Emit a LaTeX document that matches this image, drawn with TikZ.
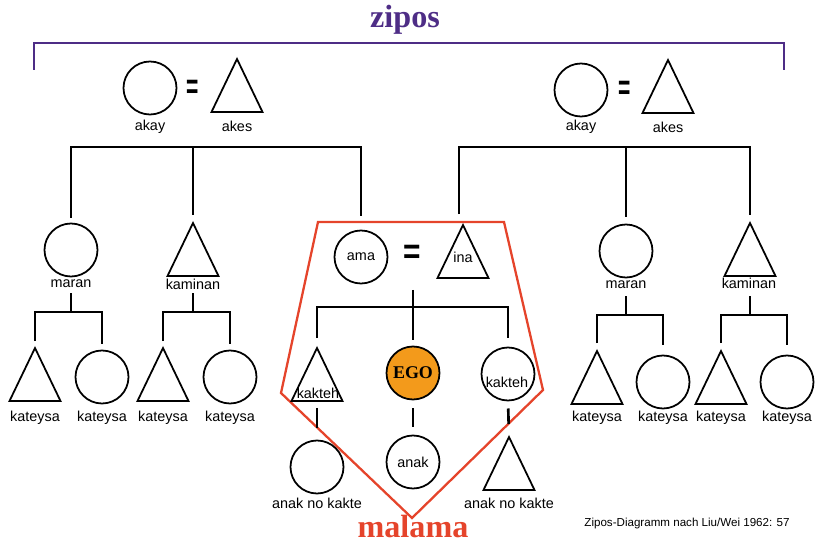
\documentclass[tikz,border=0pt]{standalone}
\usepackage{graphicx}
\usepackage{fontspec}
\setmainfont{Liberation Sans}
\newfontfamily\headfont{Liberation Serif}
\usetikzlibrary{shapes.geometric}

\definecolor{ziposviolet}{HTML}{4E2D86}
\definecolor{malamared}{HTML}{E5442B}
\definecolor{egoorange}{HTML}{F39A1B}

\tikzset{
  female/.style={circle, draw, line width=1pt, minimum size=1.06cm, inner sep=0pt, outer sep=0pt,
    font=\fontsize{8.2}{9}\selectfont},
  male/.style={isosceles triangle, isosceles triangle stretches, shape border rotate=90, draw,
    line width=1pt, minimum width=1.02cm, minimum height=1.06cm, inner sep=0pt, outer sep=0pt, anchor=south},
  term/.style={inner sep=0pt, font=\fontsize{8.2}{9}\selectfont},
  kin/.style={line width=1.5pt},
  wed/.style={inner sep=0pt, font=\bfseries\fontsize{20}{20}\selectfont},
  groupname/.style={inner sep=0pt, anchor=base, font=\headfont\bfseries\fontsize{18.3}{20}\selectfont},
}

\begin{document}
\begin{tikzpicture}[x=0.02cm, y=-0.02cm]
  \useasboundingbox (0,0) rectangle (816,544);

  % zipos bracket
  \draw[ziposviolet, line width=1.3pt] (34,70) -- (34,43) -- (784,43) -- (784,70);
  \node[groupname, text=ziposviolet] (zipos) at (405,28) {zipos};

  % malama
  \draw[malamared, line width=1.3pt] (318,222) -- (504,222) -- (543,390) -- (412,518) -- (281,393) -- cycle;
  \node[groupname, text=malamared] (malama) at (413,538) {malama};

  % grandparents
  \node[female] (akayL) at (150,88) {};
  \node[wed] (wedL) at (193,89) {\scalebox{0.6}[1]{=}};
  \node[male] (akesL) at (237,112) {};
  \node[term] (akayLt) at (150,127) {akay};
  \node[term] (akesLt) at (237,126) {akes};

  \node[female] (akayR) at (581,90) {};
  \node[wed] (wedR) at (625,90) {\scalebox{0.6}[1]{=}};
  \node[male] (akesR) at (668,113) {};
  \node[term] (akayRt) at (581,127) {akay};
  \node[term] (akesRt) at (668,127) {akes};

  % parents
  \node[female] (maranL) at (71,250) {};
  \node[term] (maranLt) at (71,284) {maran};
  \node[male] (kaminanL) at (193,276) {};
  \node[term] (kaminanLt) at (193,284) {kaminan};

  \node[female] (ama) at (361,257) {ama};
  \node[wed] (wedC) at (412,254) {\scalebox{0.85}[1]{=}};
  \node[male] (ina) at (463,278) {};
  \node[term] (inat) at (463,257) {ina};

  \node[female] (maranR) at (626,251) {};
  \node[term] (maranRt) at (626,285) {maran};
  \node[male] (kaminanR) at (750,276) {};
  \node[term] (kaminanRt) at (749,283) {kaminan};

  % ego generation
  \node[male] (katL1) at (35,401) {};
  \node[female] (katL2) at (102,377) {};
  \node[male] (katL3) at (163,401) {};
  \node[female] (katL4) at (230,377) {};
  \foreach \x/\n in {35/1,102/2,163/3,230/4}
    \node[term] (katL\n t) at (\x,418) {kateysa};

  \node[male] (kaktehT) at (317,401) {};
  \node[term] (kaktehTt) at (318,393) {kakteh};
  \node[female, fill=egoorange] (ego) at (413,373) {\headfont\bfseries\fontsize{10.2}{11}\selectfont EGO};
  \node[female] (kaktehC) at (508,374) {};
  \node[term] (kaktehCt) at (507,382) {kakteh};

  \node[male] (katR1) at (597,404) {};
  \node[female] (katR2) at (663,382) {};
  \node[male] (katR3) at (721,404) {};
  \node[female] (katR4) at (787,382) {};
  \foreach \x/\n in {597/1,663/2,721/3,787/4}
    \node[term] (katR\n t) at (\x,418) {kateysa};

  % children
  \node[female] (anakL) at (317,467) {};
  \node[term] (anakLt) at (317,503) {anak no kakte};
  \node[female] (anak) at (413,462) {anak};
  \node[male] (anakR) at (509,490) {};
  \node[term] (anakRt) at (509,503) {anak no kakte};

  % descent lines
  \coordinate (barL) at (193,147);
  \draw[kin] ([yshift=0.12cm]maranL.north) |- (barL) -| ([yshift=0.29cm]ama.north);
  \draw[kin] (barL) -- ([yshift=0.16cm]kaminanL.apex);

  \coordinate (barR) at (626,147);
  \draw[kin] ([xshift=-0.08cm,yshift=0.22cm]ina.apex) |- (barR) -| ([yshift=0.16cm]kaminanR.apex);
  \draw[kin] (barR) -- ([yshift=0.16cm]maranR.north);

  \coordinate (subL1) at (71,312);
  \draw[kin] (subL1) -- ++(0,-19);
  \draw[kin] ([yshift=0.14cm]katL1.apex) |- (subL1) -| ([yshift=0.14cm]katL2.north);
  \coordinate (subL2) at (193,312);
  \draw[kin] (subL2) -- ++(0,-19);
  \draw[kin] ([yshift=0.14cm]katL3.apex) |- (subL2) -| ([yshift=0.14cm]katL4.north);

  \coordinate (subR1) at (626,315);
  \draw[kin] (subR1) -- ++(0,-19);
  \draw[kin] ([yshift=0.16cm]katR1.apex) |- (subR1) -| ([yshift=0.21cm]katR2.north);
  \coordinate (subR2) at (750,315);
  \draw[kin] (subR2) -- ++(0,-19);
  \draw[kin] ([yshift=0.16cm]katR3.apex) |- (subR2) -| ([yshift=0.21cm]katR4.north);

  \coordinate (sibsC) at (413,290);
  \coordinate (barC) at (413,307);
  \draw[kin] (sibsC) -- ([yshift=0.14cm]ego.north);
  \draw[kin] ([yshift=0.2cm]kaktehT.apex) |- (barC) -| ([yshift=0.2cm]kaktehC.north);
  \draw[kin, shorten <=0.14cm, shorten >=0.26cm] (kaktehT.south) -- (anakL.north);
  \draw[kin, shorten <=0.18cm, shorten >=0.18cm] (ego.south) -- (anak.north);
  \draw[kin, shorten <=0.16cm, shorten >=0.26cm] (kaktehC.south) -- (anakR.apex);

  % source
  \node[inner sep=0pt, anchor=base, font=\fontsize{6.6}{8}\selectfont] (source) at (687,526)
    {Zipos-Diagramm nach Liu/Wei 1962: 57};
\end{tikzpicture}
\end{document}
